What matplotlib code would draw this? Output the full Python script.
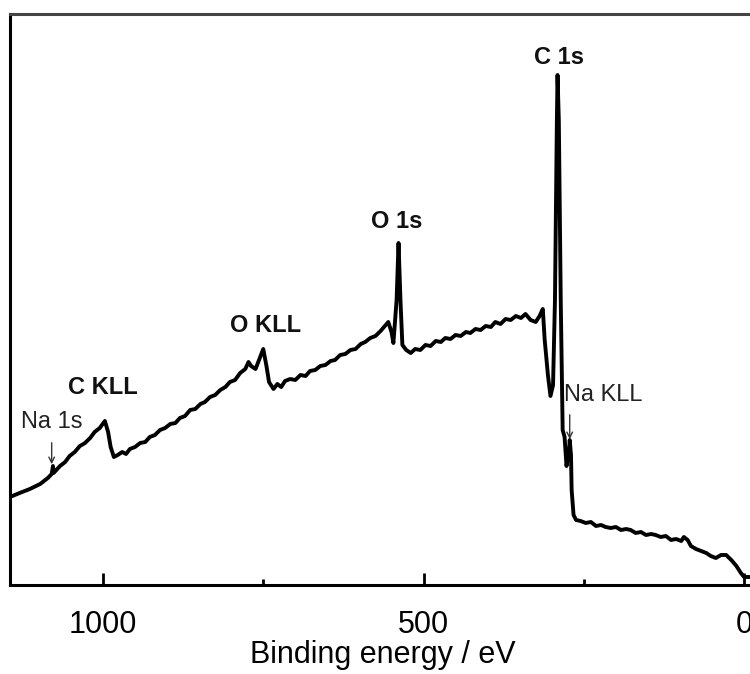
import matplotlib
matplotlib.use("Agg")
import matplotlib.pyplot as plt

plt.rcParams['font.family'] = ['Liberation Sans', 'DejaVu Sans']

# XPS survey spectrum, binding energy (eV) and intensity (arb. units)
energy = [1145, 1130, 1114, 1098, 1086, 1080, 1078, 1077, 1067, 1059, 1052, 1044, 1036, 1028,
          1020, 1013, 1005, 997, 992, 988, 983, 977, 970, 964, 958, 950, 942, 934, 927, 919,
          911, 903, 895, 887, 880, 872, 864, 856, 848, 841, 833, 825, 817, 809, 802, 794,
          786, 778, 773, 769, 762, 756, 750, 745, 741, 734, 728, 722, 716, 708, 700, 692,
          684, 677, 669, 661, 653, 645, 638, 630, 622, 614, 606, 598, 591, 583, 575, 567,
          559, 555, 550, 547, 542, 539, 536, 533, 527, 520, 513, 505, 497, 489, 481, 473,
          466, 458, 450, 442, 434, 427, 419, 411, 403, 395, 388, 380, 372, 364, 356, 348,
          341, 333, 325, 319, 314, 311, 306, 302, 298, 295, 292, 291, 289, 286, 283, 280,
          277, 273, 272, 270, 269, 266, 262, 255, 247, 239, 231, 223, 216, 208, 200, 192,
          184, 177, 169, 161, 153, 145, 138, 130, 122, 114, 106, 98, 94, 88, 83, 75, 67,
          59, 52, 44, 36, 28, 20, 12, 5, 0, -8]
intensity = [88, 92, 96, 101, 107, 111, 119, 112, 119, 123, 129, 133, 139, 142,
             147, 153, 157, 164, 153, 138, 128, 130, 133, 131, 136, 138, 142, 143, 148, 150,
             155, 157, 161, 162, 167, 169, 175, 176, 181, 183, 188, 190, 195, 198, 203, 205,
             212, 216, 223, 219, 216, 226, 236, 219, 203, 196, 201, 198, 204, 206, 205, 210,
             209, 214, 215, 219, 220, 224, 225, 230, 231, 235, 236, 241, 243, 247, 249, 254,
             260, 263, 253, 242, 285, 342, 285, 240, 235, 232, 236, 235, 240, 239, 244, 243,
             247, 246, 250, 249, 253, 252, 256, 255, 259, 258, 263, 261, 266, 265, 269, 267,
             271, 265, 263, 269, 276, 245, 210, 189, 200, 285, 465, 510, 465, 285, 155, 148,
             119, 135, 145, 130, 95, 70, 65, 64, 62, 63, 59, 60, 58, 57, 58, 55,
             56, 55, 52, 53, 50, 51, 50, 48, 49, 45, 46, 44, 48, 45, 39, 36, 34,
             32, 29, 27, 30, 30, 25, 19, 12, 8, 8]

peak_names = ['C 1s', 'O 1s', 'O KLL', 'C KLL']
peak_label_e = [289, 542, 747, 1000]
peak_label_i = [527, 363, 260, 197]

arrow_names = ['Na 1s', 'Na KLL']
arrow_label_e = [1080, 219]
arrow_label_i = [163, 190]
arrow_e = [1080, 272]
arrow_top = [145, 173]
arrow_tip = [118, 143]

fig = plt.figure(figsize=(7.5, 6.74), dpi=100)
ax = fig.add_axes([10 / 750, 89 / 674, 745 / 750, 571 / 674])

ax.plot(energy, intensity, color='black', lw=2.8, solid_joinstyle='round')

for name, e, i in zip(peak_names, peak_label_e, peak_label_i):
    ax.text(e, i, name, ha='center', va='center', fontsize=17, fontweight='bold', color='#111111')

for name, le, li, e, t0, t1 in zip(arrow_names, arrow_label_e, arrow_label_i,
                                   arrow_e, arrow_top, arrow_tip):
    ax.text(le, li, name, ha='center', va='center', fontsize=17, color='#222222')
    ax.annotate('', xy=(e, t1), xytext=(e, t0),
                arrowprops=dict(arrowstyle='->', color='#333333', lw=1.0))

ax.set_xlim(1145, -17)
ax.set_ylim(0, 571)
ax.set_xticks([1000, 500, 0])
ax.set_xticks([750, 250], minor=True)
ax.set_yticks([])
ax.tick_params(axis='x', which='major', direction='in', length=9, width=2,
               labelsize=22, pad=18)
ax.tick_params(axis='x', which='minor', direction='in', length=4, width=2)
ax.set_xlabel('Binding energy / eV', fontsize=22, labelpad=0)

for side in ['left', 'bottom', 'top']:
    ax.spines[side].set_linewidth(2.2)
ax.spines['top'].set_color('#444444')
ax.spines['right'].set_visible(False)

fig.savefig('out.png', dpi=100)
